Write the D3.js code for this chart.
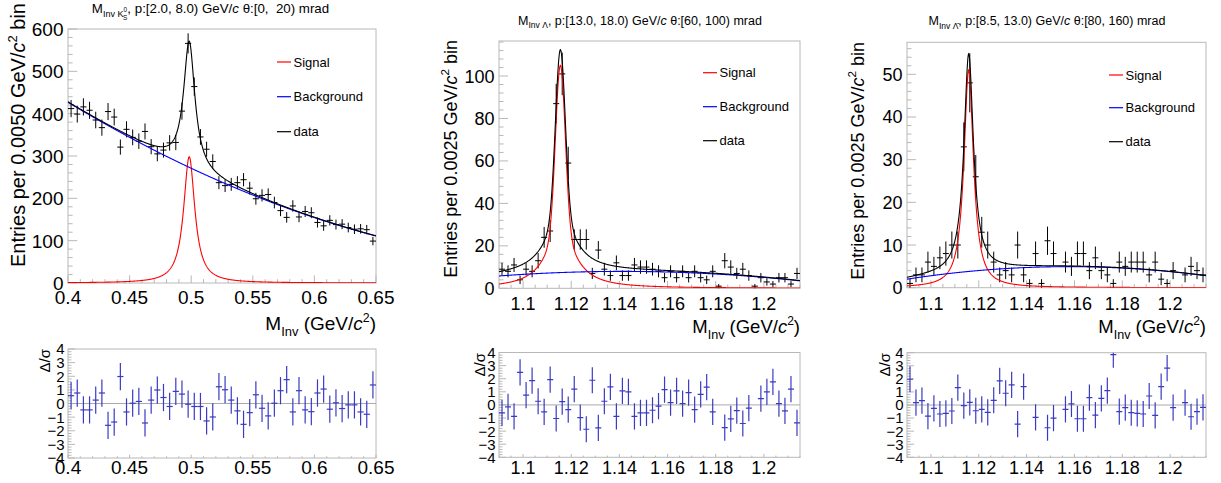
<!DOCTYPE html>
<html>
<head>
<meta charset="utf-8">
<script src="https://cdn.jsdelivr.net/npm/d3@7"></script>
<style>
  body { margin: 0; background: #fff; }
  svg { display: block; font-family: "Liberation Sans", Arial, Helvetica, sans-serif; }
  text { white-space: pre; }
</style>
</head>
<body>
<div id="chart"></div>
<script>
// ---- values ----
// K0S, p:[2.0, 8.0) theta:[0, 20) -- 50 bins of 0.005 from 0.40
var k0Counts = [412, 399, 416, 408, 385, 367, 405, 392, 321, 363,
                344, 335, 358, 322, 305, 314, 331, 332, 406, 566,
                464, 345, 316, 287, 237, 230, 233, 237, 244, 224,
                199, 207, 209, 190, 171, 155, 182, 156, 169, 166,
                143, 135, 148, 138, 139, 131, 127, 128, 126, 99];
var k0Pulls = [0.57, 0.77, -0.47, -0.47, 0.25, 0.77, -1.6, -1.36, 1.98, -0.62,
               0.02, 0.15, -1.43, 0.25, 0.99, 0.44, -0.22, 0.89, 0.69, -0.05,
               -0.22, -0.22, -1.28, -0.99, 1.23, 1.01, 0.25, -0.54, -1.53, -0.67,
               0.64, -0.35, -0.91, 0.02, 0.94, 1.75, -0.62, 0.94, -0.47, -0.6,
               0.77, 1.06, -0.42, 0.05, -0.37, -0.1, -0.1, -0.62, -0.79, 1.36];

// Lambda, p:[13.0, 18.0) theta:[60, 100) -- 50 bins of 0.0025 from 1.09
var lamCounts = [9, 8, 11, 4, 9, 8, 13, 24, 27, 87,
                 101, 59, 23, 23, 23, 7, 18, 9, 6, 12,
                 6, 6, 11, 10, 10, 9, 8, 5, 8, 5,
                 8, 5, 8, 5, 4, 8, 1, 13, 10, 7,
                 9, 6, 1, 5, 3, 2, 5, 5, 2, 7];
var lamPulls = [-0.61, -0.15, -0.87, 2.49, 0.74, 1.86, 0.28, -0.53, 1.93, -1.04,
                0.25, -0.36, 1.2, -0.97, -1.86, 1.88, -1.76, 0.28, 1.37, -0.87,
                1.07, 0.99, -0.87, -0.61, -0.61, -0.41, -0.1, 1.17, 0.18, 1.07,
                0.1, 0.94, -0.36, 0.81, 1.35, -0.53, null, -1.73, -1.07, -0.43,
                -1.42, -0.25, null, 0.48, 0.99, 1.76, 0.1, -0.46, 1.2, -1.37];

// anti-Lambda, p:[8.5, 13.0) theta:[80, 160)
var alamCounts = [1, 3, 3, 6, 5, 7, 8, 10, 10, 33,
                  48, 26, 13, 10, 6, 3, 4, 3, 10, 3,
                  1, 8, 1, 11, 8, 0, 6, 5, 8, 8,
                  4, 7, 4, 3, 1, 6, 5, 6, 6, 6,
                  3, 6, 2, 1, 4, 0, 3, 5, 4, 3];
var alamPulls = [1.97, 0.18, 0.33, -0.85, -0.26, -0.69, -0.64, -0.46, 1.33, -0.05,
                 0.2, -0.44, -0.33, -0.56, 0.36, 1.85, 0.9, 1.54, -1.46, 1.41,
                 null, -0.95, null, -1.74, -1.0, null, -0.33, 0.08, -1.05, -1.05,
                 0.56, -0.77, 0.51, 1.1, 3.85, -0.51, -0.2, -0.59, -0.64, -0.69,
                 0.69, -0.79, 1.41, 2.82, -0.2, null, 0.18, -0.9, -0.51, -0.18];

// fitted signal: [peak, gauss amp, gauss sigma, lorentz amp, lorentz half width]
var k0Signal = [0.4984, 0, 0.002, 298, 0.0055];
var lamSignal = [1.1155, 77, 0.002, 28, 0.0071];
var alamSignal = [1.1158, 0, 0.002, 51, 0.0024];
// fitted background: polynomial in (m - low edge)
var k0Background = [427, -1757, 1973];
var lamBackground = [5.8, 84.3, -821.5];
var alamBackground = [2.0, 86.7, -642];

// tick labels
var k0XTicks = [0.4, 0.45, 0.5, 0.55, 0.6, 0.65];
var k0YTicks = [0, 100, 200, 300, 400, 500, 600];
var lamXTicks = [1.1, 1.12, 1.14, 1.16, 1.18, 1.2];
var lamYTicks = [0, 20, 40, 60, 80, 100];
var alamYTicks = [0, 10, 20, 30, 40, 50];
var pullTicks = [-4, -3, -2, -1, 0, 1, 2, 3, 4];
var legendNames = ["Signal", "Background", "data"];

var W = 1221, H = 483;
var frameColor = "#b8b8b8";
var pullColor = "#3a3ac4";

var panels = [
  {
    counts: k0Counts, pulls: k0Pulls, signal: k0Signal, bkg: k0Background,
    xDomain: [0.4, 0.65], binW: 0.005, yMax: 600,
    xTicks: k0XTicks, xMinor: 0.01, yTicks: k0YTicks, yMinor: 20,
    frame: {l: 68, r: 376, t: 29, b: 283}, pull: {t: 349, b: 458},
    tickSize: 19, xLabelY: 303.5,
    title: [{t: "M"}, {t: "Inv K", k: "sub"}, {t: "0", k: "kup"}, {t: "S", k: "kdn", dx: -4}, {t: ", p:[2.0, 8.0) GeV/"}, {t: "c", k: "it"}, {t: " θ:[0,  20) mrad"}],
    titleX: 210.5, titleY: 13, titleSize: 13.3,
    yTitle: "0.0050", yTitleX: 25, yTitleEnd: 3, yTitleSize: 20,
    xTitleY: 330, xTitleSize: 19,
    legendX: 277, legendY: [62, 96.7, 131.7],
    pullTitleX: 50, pullTitleEnd: 349
  },
  {
    counts: lamCounts, pulls: lamPulls, signal: lamSignal, bkg: lamBackground,
    xDomain: [1.09, 1.215], binW: 0.0025, yMax: 116.5,
    xTicks: lamXTicks, xMinor: 0.005, yTicks: lamYTicks, yMinor: 4,
    frame: {l: 499, r: 800, t: 41, b: 288.3}, pull: {t: 352.5, b: 457.3},
    tickSize: 18, xLabelY: 309.5,
    title: [{t: "M"}, {t: "Inv Λ", k: "sub"}, {t: ", p:[13.0, 18.0) GeV/"}, {t: "c", k: "it"}, {t: " θ:[60, 100) mrad"}],
    titleX: 640, titleY: 24.5, titleSize: 12.5,
    yTitle: "0.0025", yTitleX: 457, yTitleEnd: 40, yTitleSize: 18,
    xTitleY: 333, xTitleSize: 18.5,
    legendX: 703, legendY: [72.7, 106.7, 140.7],
    pullTitleX: 485, pullTitleEnd: 353
  },
  {
    counts: alamCounts, pulls: alamPulls, signal: alamSignal, bkg: alamBackground,
    xDomain: [1.09, 1.215], binW: 0.0025, yMax: 57.5,
    xTicks: lamXTicks, xMinor: 0.005, yTicks: alamYTicks, yMinor: 2,
    frame: {l: 907, r: 1206, t: 42.3, b: 287.7}, pull: {t: 352.7, b: 457.3},
    tickSize: 18, xLabelY: 309.5,
    title: [{t: "M"}, {t: "Inv Λ̄", k: "sub"}, {t: ", p:[8.5, 13.0) GeV/"}, {t: "c", k: "it"}, {t: " θ:[80, 160) mrad"}],
    titleX: 1047, titleY: 25, titleSize: 12.5,
    yTitle: "0.0025", yTitleX: 864, yTitleEnd: 42, yTitleSize: 18,
    xTitleY: 333, xTitleSize: 18.5,
    legendX: 1109, legendY: [75, 107.7, 141.7],
    pullTitleX: 890, pullTitleEnd: 353
  }
];

var svg = d3.select("#chart").append("svg")
    .attr("width", W)
    .attr("height", H);
svg.append("rect").attr("width", W).attr("height", H).attr("fill", "#fff");
var defs = svg.append("defs");

panels.forEach(function(p, i) { drawPanel(p, i); });

function signalAt(s, m) {
  var d = m - s[0];
  return s[1] * Math.exp(-d * d / (2 * s[2] * s[2])) + s[3] * s[4] * s[4] / (d * d + s[4] * s[4]);
}

function bkgAt(b, m, lo) {
  var u = m - lo;
  return b[0] + b[1] * u + b[2] * u * u;
}

// steps of a tick grid, avoiding float drift
function grid(lo, hi, step) {
  var a = Math.ceil(lo / step - 1e-6), b = Math.floor(hi / step + 1e-6);
  return d3.range(a, b + 1).map(function(k) { return +(k * step).toFixed(6); });
}

function label(v) {
  return v < 0 ? "\u2212" + String(-v) : String(v);
}

// text with sub/superscripts as tspans
function rich(textSel, parts, size) {
  var shift = 0;
  parts.forEach(function(p) {
    var target = 0, fs = size;
    if (p.k == "sub") { target = size * 0.3; fs = size * 0.68; }
    if (p.k == "sup") { target = -size * 0.42; fs = size * 0.65; }
    if (p.k == "kup") { target = -size * 0.05; fs = size * 0.48; }
    if (p.k == "kdn") { target = size * 0.5; fs = size * 0.48; }
    var t = textSel.append("tspan")
        .attr("font-size", fs)
        .attr("dy", target - shift)
        .text(p.t);
    if (p.dx) t.attr("dx", p.dx);
    if (p.k == "it") t.style("font-style", "italic");
    shift = target;
  });
}

function drawPanel(p, pi) {
  var f = p.frame, lo = p.xDomain[0];
  var x = d3.scaleLinear().domain(p.xDomain).range([f.l, f.r]);
  var y = d3.scaleLinear().domain([0, p.yMax]).range([f.b, f.t]);
  var yp = d3.scaleLinear().domain([-4, 4]).range([p.pull.b, p.pull.t]);
  var g = svg.append("g");

  var cid = "clip" + pi;
  defs.append("clipPath").attr("id", cid)
    .append("rect")
      .attr("x", f.l).attr("y", f.t)
      .attr("width", f.r - f.l).attr("height", f.b - f.t);

  // ---------- upper pad ----------
  g.append("rect")
      .attr("x", f.l).attr("y", f.t)
      .attr("width", f.r - f.l).attr("height", f.b - f.t)
      .attr("fill", "none").attr("stroke", frameColor);

  var yMajorLen = 0.03 * (f.r - f.l), xMajorLen = 0.03 * (f.b - f.t);
  grid(0, p.yMax, p.yMinor).forEach(function(v) {
    var major = p.yTicks.indexOf(v) >= 0;
    g.append("line")
        .attr("x1", f.l).attr("x2", f.l + (major ? yMajorLen : yMajorLen / 2))
        .attr("y1", y(v)).attr("y2", y(v))
        .attr("stroke", frameColor);
  });
  grid(p.xDomain[0], p.xDomain[1], p.xMinor).forEach(function(v) {
    var major = p.xTicks.some(function(t) { return Math.abs(t - v) < 1e-6; });
    g.append("line")
        .attr("x1", x(v)).attr("x2", x(v))
        .attr("y1", f.b).attr("y2", f.b - (major ? xMajorLen : xMajorLen / 2))
        .attr("stroke", frameColor);
  });

  g.selectAll(".ylab").data(p.yTicks).enter().append("text")
      .attr("x", f.l - 4.5).attr("y", function(d) { return y(d) + p.tickSize * 0.36; })
      .attr("text-anchor", "end").attr("font-size", p.tickSize)
      .text(label);
  g.selectAll(".xlab").data(p.xTicks).enter().append("text")
      .attr("x", function(d) { return x(d); }).attr("y", p.xLabelY)
      .attr("text-anchor", "middle").attr("font-size", p.tickSize)
      .text(label);

  // data points
  var pts = g.append("g").attr("stroke", "#000").attr("stroke-width", 1);
  p.counts.forEach(function(n, i) {
    if (!n) return;
    var c = lo + p.binW * (i + 0.5), e = Math.sqrt(n);
    pts.append("line")
        .attr("x1", x(c - p.binW / 2)).attr("x2", x(c + p.binW / 2))
        .attr("y1", y(n)).attr("y2", y(n));
    pts.append("line")
        .attr("x1", x(c)).attr("x2", x(c))
        .attr("y1", y(n - e)).attr("y2", y(Math.min(n + e, p.yMax)));
  });

  // fit curves
  var ms = d3.range(0, 801).map(function(k) { return lo + (p.xDomain[1] - lo) * k / 800; });
  var line = d3.line().x(function(d) { return x(d[0]); }).y(function(d) { return y(d[1]); });
  var curves = g.append("g").attr("clip-path", "url(#" + cid + ")").attr("fill", "none").attr("stroke-width", 1.1);
  curves.append("path")
      .attr("d", line(ms.map(function(m) { return [m, signalAt(p.signal, m)]; })))
      .attr("stroke", "#ff0000");
  curves.append("path")
      .attr("d", line(ms.map(function(m) { return [m, bkgAt(p.bkg, m, lo)]; })))
      .attr("stroke", "#0000ff");
  curves.append("path")
      .attr("d", line(ms.map(function(m) { return [m, signalAt(p.signal, m) + bkgAt(p.bkg, m, lo)]; })))
      .attr("stroke", "#000");

  // legend
  var legendColors = ["#ff0000", "#0000ff", "#000"];
  legendNames.forEach(function(name, i) {
    g.append("line")
        .attr("x1", p.legendX).attr("x2", p.legendX + 14)
        .attr("y1", p.legendY[i]).attr("y2", p.legendY[i])
        .attr("stroke", legendColors[i]).attr("stroke-width", 1.2);
    g.append("text")
        .attr("x", p.legendX + 16.5).attr("y", p.legendY[i] + 4.6)
        .attr("font-size", 13)
        .text(name);
  });

  // title
  var title = g.append("text")
      .attr("x", p.titleX).attr("y", p.titleY)
      .attr("text-anchor", "middle");
  rich(title, p.title, p.titleSize);

  // axis titles
  var yt = g.append("text")
      .attr("transform", "translate(" + p.yTitleX + "," + p.yTitleEnd + ") rotate(-90)")
      .attr("text-anchor", "end");
  rich(yt, [{t: "Entries per " + p.yTitle + " GeV/"}, {t: "c", k: "it"}, {t: "2", k: "sup"}, {t: " bin"}], p.yTitleSize);

  var xt = g.append("text")
      .attr("x", f.r).attr("y", p.xTitleY)
      .attr("text-anchor", "end");
  rich(xt, [{t: "M"}, {t: "Inv", k: "sub"}, {t: " (GeV/"}, {t: "c", k: "it"}, {t: "2", k: "sup"}, {t: ")"}], p.xTitleSize);

  // ---------- pull pad ----------
  var q = p.pull;
  var pcid = "pclip" + pi;
  defs.append("clipPath").attr("id", pcid)
    .append("rect")
      .attr("x", f.l).attr("y", q.t)
      .attr("width", f.r - f.l).attr("height", q.b - q.t);

  g.append("rect")
      .attr("x", f.l).attr("y", q.t)
      .attr("width", f.r - f.l).attr("height", q.b - q.t)
      .attr("fill", "none").attr("stroke", frameColor);

  grid(-4, 4, 0.2).forEach(function(v) {
    var major = Math.abs(v - Math.round(v)) < 1e-6;
    g.append("line")
        .attr("x1", f.l).attr("x2", f.l + (major ? 7 : 3.5))
        .attr("y1", yp(v)).attr("y2", yp(v))
        .attr("stroke", frameColor);
  });
  grid(p.xDomain[0], p.xDomain[1], p.xMinor).forEach(function(v) {
    var major = p.xTicks.some(function(t) { return Math.abs(t - v) < 1e-6; });
    g.append("line")
        .attr("x1", x(v)).attr("x2", x(v))
        .attr("y1", q.b).attr("y2", q.b - (major ? 3.3 : 1.7))
        .attr("stroke", frameColor);
  });

  g.append("line")
      .attr("x1", f.l).attr("x2", f.r)
      .attr("y1", yp(0)).attr("y2", yp(0))
      .attr("stroke", "#aaa");

  g.selectAll(".plab").data(pullTicks).enter().append("text")
      .attr("x", f.l - 3.5).attr("y", function(d) { return yp(d) + 5.4; })
      .attr("text-anchor", "end").attr("font-size", 15)
      .text(label);
  g.selectAll(".pxlab").data(p.xTicks).enter().append("text")
      .attr("x", function(d) { return x(d); }).attr("y", 473.5)
      .attr("text-anchor", "middle").attr("font-size", p.tickSize)
      .text(label);

  var pp = g.append("g").attr("clip-path", "url(#" + pcid + ")")
      .attr("stroke", pullColor).attr("stroke-width", 1.2);
  p.pulls.forEach(function(r, i) {
    if (r === null) return;
    var c = lo + p.binW * (i + 0.5);
    pp.append("line")
        .attr("x1", x(c - p.binW / 2)).attr("x2", x(c + p.binW / 2))
        .attr("y1", yp(r)).attr("y2", yp(r));
    pp.append("line")
        .attr("x1", x(c)).attr("x2", x(c))
        .attr("y1", yp(r - 1)).attr("y2", yp(r + 1));
  });

  var pt = g.append("text")
      .attr("transform", "translate(" + p.pullTitleX + "," + p.pullTitleEnd + ") rotate(-90)")
      .attr("text-anchor", "end")
      .attr("font-size", 15)
      .text("Δ/σ");
}
</script>
</body>
</html>
